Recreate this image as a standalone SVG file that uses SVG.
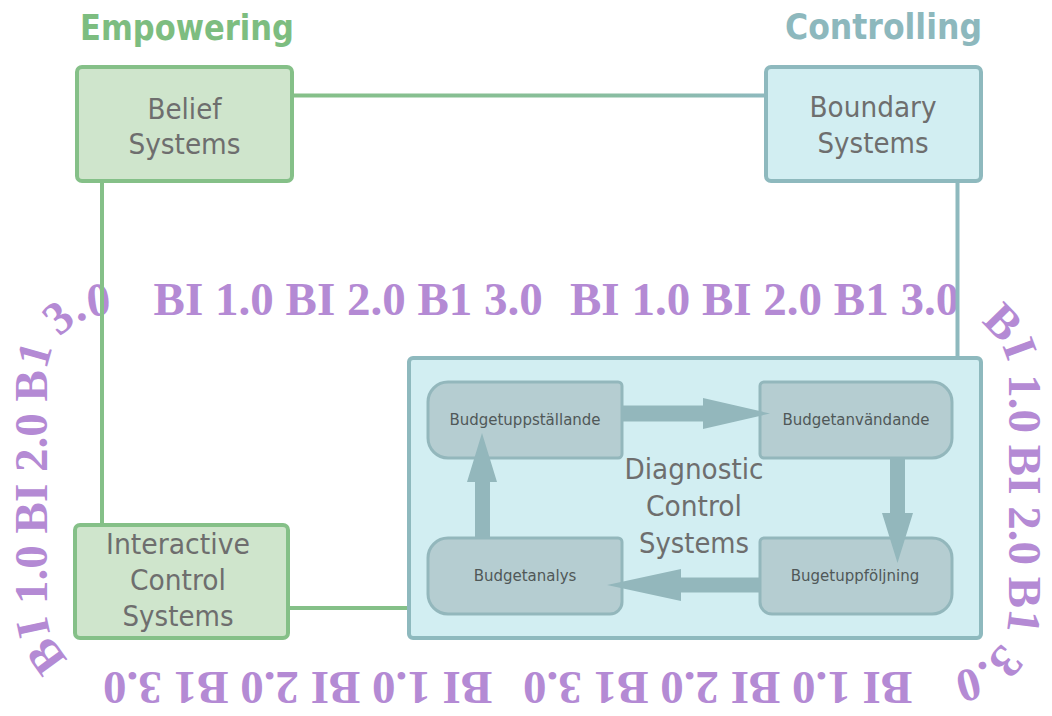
<svg xmlns="http://www.w3.org/2000/svg" xmlns:xlink="http://www.w3.org/1999/xlink" width="1052" height="716" viewBox="0 0 1052 716">
  <style>
    .ring { font-family: "Liberation Serif", serif; font-weight: bold; font-size: 47px; fill: #B48AD4; }
    .lbl { font-family: "DejaVu Sans", sans-serif; font-size: 29px; fill: #6E6E6E; text-anchor: middle; }
    .small { font-family: "DejaVu Sans", sans-serif; font-size: 15px; fill: #505858; text-anchor: middle; }
    .title { font-family: "DejaVu Sans", sans-serif; font-weight: bold; font-size: 35px; }
    .green { fill: #CFE5CC; stroke: #85C088; stroke-width: 4; }
    .teal { fill: #D2EEF2; stroke: #8EB9BE; stroke-width: 4; }
    .inner { fill: #B5CDD1; stroke: #93B7BC; stroke-width: 3; }
    .arrow { fill: #93B7BC; }
    .line { fill: none; stroke-width: 4; }
  </style>
  <defs>
    <path id="loop" d="M560,315 H949 A60,60 0 0 1 1009,375 V612 A60,60 0 0 1 949,672 H107 A60,60 0 0 1 47,612 V375 A60,60 0 0 1 107,315 Z"/>
    <linearGradient id="topGrad" gradientUnits="userSpaceOnUse" x1="294" y1="0" x2="764" y2="0">
      <stop offset="0" stop-color="#85C088"/>
      <stop offset="0.6" stop-color="#88BE9A"/>
      <stop offset="1" stop-color="#8EB9BE"/>
    </linearGradient>
  </defs>
  <rect width="1052" height="716" fill="#FFFFFF"/>

  <g id="ring-text" class="ring">
    <text><textPath xlink:href="#loop" href="#loop" startOffset="10">BI 1.0 BI 2.0 B1 3.0</textPath></text>
    <text><textPath xlink:href="#loop" href="#loop" startOffset="421">BI 1.0 BI 2.0 B1 3.0</textPath></text>
    <text><textPath xlink:href="#loop" href="#loop" startOffset="851">BI 1.0 BI 2.0 B1 3.0</textPath></text>
    <text><textPath xlink:href="#loop" href="#loop" startOffset="1271">BI 1.0 BI 2.0 B1 3.0</textPath></text>
    <text><textPath xlink:href="#loop" href="#loop" startOffset="1697">BI 1.0 BI 2.0 B1 3.0</textPath></text>
    <text><textPath xlink:href="#loop" href="#loop" startOffset="2128">BI 1.0 BI 2.0 B1 3.0</textPath></text>
  </g>

  <g id="titles" class="title">
    <text x="80" y="40" fill="#7DBD80" textLength="214" lengthAdjust="spacingAndGlyphs">Empowering</text>
    <text x="785" y="39" fill="#8DB8BD" textLength="197" lengthAdjust="spacingAndGlyphs">Controlling</text>
  </g>

  <g id="belief">
    <rect class="green" x="77" y="67" width="215" height="114" rx="5"/>
    <text class="lbl" x="184.5" y="119" textLength="74" lengthAdjust="spacingAndGlyphs">Belief</text>
    <text class="lbl" x="184.5" y="154" textLength="112" lengthAdjust="spacingAndGlyphs">Systems</text>
  </g>

  <g id="boundary">
    <rect class="teal" x="766" y="67" width="215" height="114" rx="5"/>
    <text class="lbl" x="873" y="117" textLength="127" lengthAdjust="spacingAndGlyphs">Boundary</text>
    <text class="lbl" x="873" y="153" textLength="111" lengthAdjust="spacingAndGlyphs">Systems</text>
  </g>

  <g id="interactive">
    <rect class="green" x="75" y="525" width="213" height="113" rx="5"/>
    <text class="lbl" x="178" y="554" textLength="144" lengthAdjust="spacingAndGlyphs">Interactive</text>
    <text class="lbl" x="178" y="590" textLength="96" lengthAdjust="spacingAndGlyphs">Control</text>
    <text class="lbl" x="178" y="626" textLength="111" lengthAdjust="spacingAndGlyphs">Systems</text>
  </g>

  <g id="diagnostic">
    <rect class="teal" x="409" y="358" width="572" height="280" rx="4"/>
    <text class="lbl" x="694" y="479" textLength="139" lengthAdjust="spacingAndGlyphs">Diagnostic</text>
    <text class="lbl" x="694" y="516" textLength="96" lengthAdjust="spacingAndGlyphs">Control</text>
    <text class="lbl" x="694" y="553" textLength="110" lengthAdjust="spacingAndGlyphs">Systems</text>
  </g>

  <g id="budgetuppstallande">
    <path class="inner" d="M448,382 H618 A4,4 0 0 1 622,386 V454 A4,4 0 0 1 618,458 H448 A20,20 0 0 1 428,438 V402 A20,20 0 0 1 448,382 Z"/>
    <text class="small" x="525" y="425">Budgetuppställande</text>
  </g>

  <g id="budgetanvandande">
    <path class="inner" d="M764,382 H932 A20,20 0 0 1 952,402 V438 A20,20 0 0 1 932,458 H764 A4,4 0 0 1 760,454 V386 A4,4 0 0 1 764,382 Z"/>
    <text class="small" x="856" y="425">Budgetanvändande</text>
  </g>

  <g id="budgetanalys">
    <path class="inner" d="M448,538 H618 A4,4 0 0 1 622,542 V602 A12,12 0 0 1 610,614 H448 A20,20 0 0 1 428,594 V558 A20,20 0 0 1 448,538 Z"/>
    <text class="small" x="525" y="581">Budgetanalys</text>
  </g>

  <g id="bugetuppfoljning">
    <path class="inner" d="M764,538 H932 A20,20 0 0 1 952,558 V594 A20,20 0 0 1 932,614 H772 A12,12 0 0 1 760,602 V542 A4,4 0 0 1 764,538 Z"/>
    <text class="small" x="855" y="581">Bugetuppföljning</text>
  </g>

  <g id="connectors">
    <line class="line" x1="294" y1="95.5" x2="764" y2="95.5" stroke="url(#topGrad)"/>
    <line class="line" x1="102" y1="183" x2="102" y2="523" stroke="#85C088"/>
    <line class="line" x1="957.5" y1="183" x2="957.5" y2="356" stroke="#8EB9BE"/>
    <line class="line" x1="290" y1="608" x2="407" y2="608" stroke="#85C088"/>
    <polygon class="arrow" points="622,405.5 703,405.5 703,398 770,413.5 703,429 703,421.5 622,421.5"/>
    <polygon class="arrow" points="890,458 905,458 905,513 913,513 897.5,563 882,513 890,513"/>
    <polygon class="arrow" points="760,577.5 681,577.5 681,569 607,585 681,601 681,592.5 760,592.5"/>
    <polygon class="arrow" points="475,538 475,482 467,482 482,433 497,482 490,482 490,538"/>
  </g>
</svg>
